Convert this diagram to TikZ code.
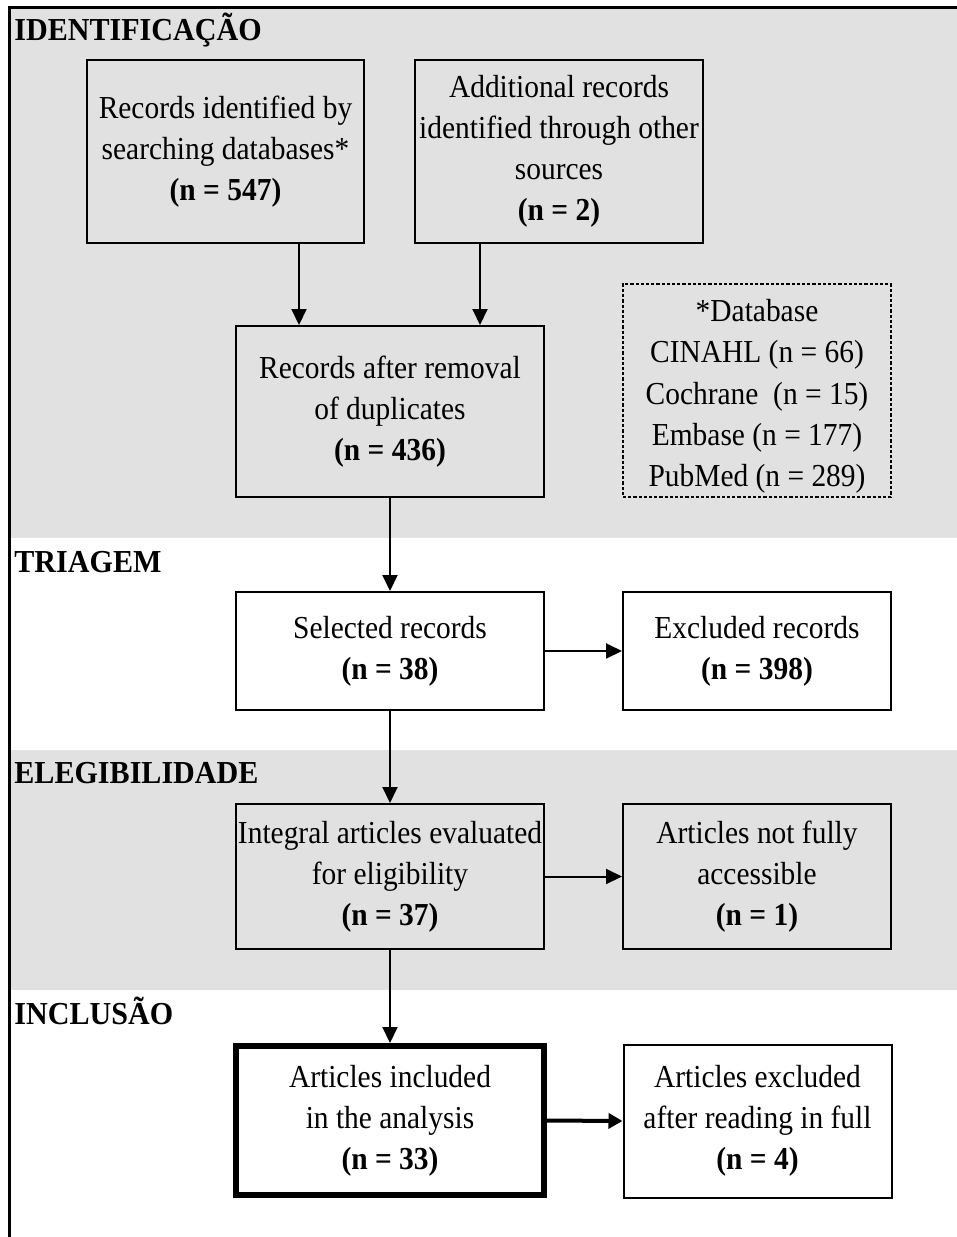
\documentclass[tikz,border=0pt]{standalone}
\usepackage{fontspec}
\setmainfont{Liberation Serif}[FakeStretch=0.92]
\newfontfamily\headfont{Liberation Serif}[FakeStretch=0.94]
\usetikzlibrary{arrows.meta}
\definecolor{band}{HTML}{E1E1E1}
\tikzset{
  box/.style={draw=black, line width=1pt, align=center, inner sep=0.5pt,
    font=\fontsize{16}{20.6}\selectfont},
  dbox/.style={box, dashed, dash pattern=on 1.6pt off 1pt, line width=0.7pt},
  thickbox/.style={box, line width=3pt},
  head/.style={anchor=base west, inner sep=0pt, font=\headfont\fontsize{16}{18}\selectfont\bfseries},
  arr/.style={line width=1pt, -{Triangle[length=8pt,width=7.5pt]}},
  thickarr/.style={line width=2pt, -{Triangle[length=7pt,width=7.5pt]}}
}
\begin{document}
\begin{tikzpicture}[x=0.5pt,y=-0.5pt]
\useasboundingbox (0,0) rectangle (957,1237);
\fill[white] (0,0) rectangle (957,1237);
% bands
\fill[band] (9,7) rectangle (957,538);
\fill[band] (9,750) rectangle (957,990);
% frame
\draw[line width=1.5pt] (9.5,1237) -- (9.5,7) -- (957,7);
% headings
\node[head] (h1) at (14,40) {IDENTIFICAÇÃO};
\node[head] (h2) at (14,572) {TRIAGEM};
\node[head] (h3) at (14,783) {ELEGIBILIDADE};
\node[head] (h4) at (14,1024) {INCLUSÃO};
% boxes
\node[box, minimum width=138.5pt, minimum height=91.5pt] (A) at (225.5,151.5)
  {Records identified by\\searching databases*\\\textbf{(n = 547)}};
\node[box, minimum width=144pt, minimum height=91.5pt] (B) at (559,151.5)
  {Additional records\\identified through other\\sources\\\textbf{(n = 2)}};
\node[box, minimum width=154pt, minimum height=85.5pt] (C) at (390,411.5)
  {Records after removal\\of duplicates\\\textbf{(n = 436)}};
\node[dbox, minimum width=134pt, minimum height=106.5pt] (D) at (757,390.5)
  {\rule{0pt}{17pt}*Database\\CINAHL (n = 66)\\Cochrane\ \ (n = 15)\\Embase (n = 177)\\PubMed (n = 289)};
\node[box, minimum width=154pt, minimum height=59pt] (S) at (390,651)
  {Selected records\\\textbf{(n = 38)}};
\node[box, minimum width=134pt, minimum height=59pt] (E) at (757,651)
  {Excluded records\\\textbf{(n = 398)}};
\node[box, minimum width=154pt, minimum height=72.5pt] (I) at (390,876.5)
  {Integral articles evaluated\\for eligibility\\\textbf{(n = 37)}};
\node[box, minimum width=134pt, minimum height=72.5pt] (N) at (757,876.5)
  {Articles not fully\\accessible\\\textbf{(n = 1)}};
\node[thickbox, minimum width=154pt, minimum height=74.5pt] (F) at (390,1120.5)
  {Articles included\\in the analysis\\\textbf{(n = 33)}};
\node[box, minimum width=134pt, minimum height=76.5pt] (X) at (757.5,1121)
  {Articles excluded\\after reading in full\\\textbf{(n = 4)}};
% arrows
\draw[arr] ([xshift=36.75pt]A.south) -- ([xshift=36.75pt]A.south |- C.north);
\draw[arr] ([xshift=-39.5pt]B.south) -- ([xshift=-39.5pt]B.south |- C.north);
\draw[arr] (C.south) -- (S.north);
\draw[arr] (S.east) -- (E.west);
\draw[arr] (S.south) -- (I.north);
\draw[arr] (I.east) -- (N.west);
\draw[arr] (I.south) -- (F.north);
\draw[thickarr] (F.east) -- (X.west);
\end{tikzpicture}
\end{document}
